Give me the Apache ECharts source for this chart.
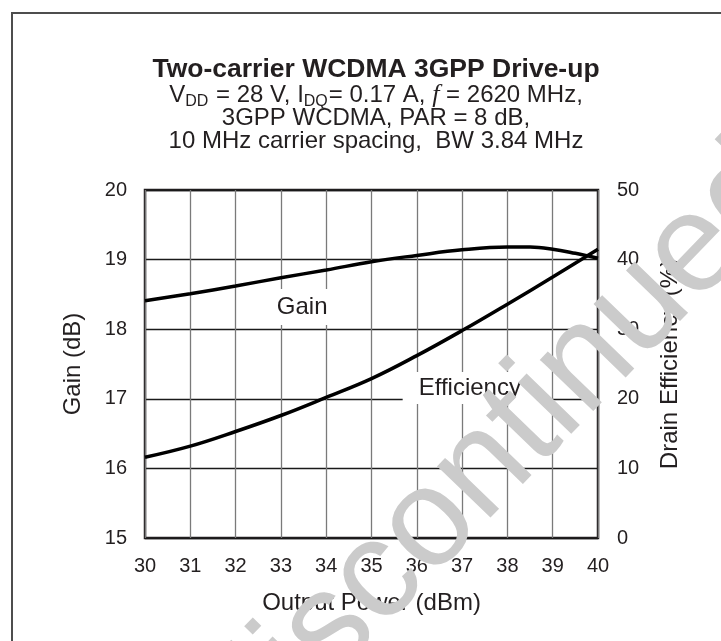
<!DOCTYPE html>
<html>
<head>
<meta charset="utf-8">
<title>Two-carrier WCDMA 3GPP Drive-up</title>
<script src="https://cdn.jsdelivr.net/npm/echarts@6/dist/echarts.min.js"></script>
<style>
  html, body { margin: 0; padding: 0; background: #fff; }
  #chart { width: 721px; height: 641px; }
</style>
</head>
<body>
<div id="chart"></div>
<script>
  // values
  const gainPower = [30, 31, 32, 33, 34, 35, 36, 37, 38, 38.5, 39, 39.5, 40]
  const gainDb = [18.41, 18.51, 18.62, 18.74, 18.85, 18.97, 19.06, 19.14, 19.18, 19.18, 19.15, 19.09, 19.02]
  const effPower = [30, 31, 32, 33, 34, 35, 36, 37, 38, 39, 40]
  const effPct = [11.6, 13.2, 15.3, 17.6, 20.2, 22.9, 26.2, 29.8, 33.6, 37.5, 41.5]

  const ink = '#231f20'
  const font = 'Liberation Sans, Arial, sans-serif'

  const pairs = (xs, ys) => xs.map((x, i) => [x, ys[i]])

  let myChart = echarts.init(document.getElementById('chart'))
  let option = {
    backgroundColor: '#fff',
    animation: false,
    title: {
      text: 'Two-carrier WCDMA 3GPP Drive-up',
      left: 371,
      top: 52,
      textAlign: 'center',
      itemGap: 0,
      textStyle: {
        fontFamily: font,
        fontSize: 26.5,
        fontWeight: 'bold',
        color: ink,
        lineHeight: 26
      },
      subtext: '{n|V}{s|DD}{n| = 28 V, I}{s|DQ}{n|= 0.17 A, }{i|f}{n| = 2620 MHz,}\n' +
        '3GPP WCDMA, PAR = 8 dB,\n10 MHz carrier spacing,  BW 3.84 MHz',
      subtextStyle: {
        fontFamily: font,
        fontSize: 24,
        color: ink,
        lineHeight: 23,
        align: 'center',
        rich: {
          n: {fontFamily: font, fontSize: 24, color: ink, lineHeight: 23},
          s: {fontFamily: font, fontSize: 16, color: ink, lineHeight: 10, padding: [12, 1, 0, 0], verticalAlign: 'middle'},
          i: {fontFamily: 'Liberation Serif, serif', fontStyle: 'italic', fontSize: 26, color: ink, lineHeight: 23}
        }
      }
    },
    grid: {
      left: 145,
      right: 123,
      top: 190,
      bottom: 103,
      show: true,
      borderColor: ink,
      borderWidth: 2.5
    },
    xAxis: {
      type: 'value',
      min: 30,
      max: 40,
      interval: 1,
      name: 'Output Power (dBm)',
      nameLocation: 'middle',
      nameGap: 53,
      nameTextStyle: {fontFamily: font, fontSize: 24, color: ink},
      axisLine: {show: false},
      axisTick: {show: false},
      axisLabel: {fontFamily: font, fontSize: 20, color: ink, margin: 18},
      splitLine: {lineStyle: {color: '#7a7a7a', width: 1.3}}
    },
    yAxis: [{
      type: 'value',
      position: 'left',
      min: 15,
      max: 20,
      interval: 1,
      name: 'Gain (dB)',
      nameLocation: 'middle',
      nameRotate: 90,
      nameGap: 60,
      nameTextStyle: {fontFamily: font, fontSize: 24, color: ink},
      axisLine: {show: false},
      axisTick: {show: false},
      axisLabel: {fontFamily: font, fontSize: 20, color: ink, margin: 18},
      splitLine: {lineStyle: {color: '#1a1a1a', width: 1.3}}
    }, {
      type: 'value',
      position: 'right',
      min: 0,
      max: 50,
      interval: 10,
      name: 'Drain Efficiency (%)',
      nameLocation: 'middle',
      nameRotate: 90,
      nameGap: 60,
      nameTextStyle: {fontFamily: font, fontSize: 24, color: ink},
      axisLine: {show: false},
      axisTick: {show: false},
      axisLabel: {fontFamily: font, fontSize: 20, color: ink, margin: 19},
      splitLine: {show: false}
    }],
    series: [
      {
        name: 'Gain',
        type: 'line',
        yAxisIndex: 0,
        smooth: 0.4,
        showSymbol: false,
        lineStyle: {color: '#000', width: 3.5},
        data: pairs(gainPower, gainDb),
        markPoint: {
          symbol: 'rect',
          symbolSize: 1,
          itemStyle: {color: 'rgba(0,0,0,0)'},
          label: {
            show: true,
            position: 'inside',
            formatter: 'Gain',
            fontFamily: font,
            fontSize: 24,
            color: ink,
            backgroundColor: '#fff',
            padding: [6, 10]
          },
          data: [{coord: [33.47, 18.32]}]
        }
      },
      {
        name: 'Efficiency',
        type: 'line',
        yAxisIndex: 1,
        smooth: 0.4,
        showSymbol: false,
        lineStyle: {color: '#000', width: 3.5},
        data: pairs(effPower, effPct),
        markPoint: {
          symbol: 'rect',
          symbolSize: 1,
          itemStyle: {color: 'rgba(0,0,0,0)'},
          label: {
            show: true,
            position: 'inside',
            formatter: 'Efficiency',
            fontFamily: font,
            fontSize: 24,
            color: ink,
            backgroundColor: '#fff',
            padding: [4, 16]
          },
          data: [{coord: [37.17, 21.55]}]
        }
      }
    ],
    graphic: [
      {
        // page frame (left and top edges only)
        type: 'polyline',
        silent: true,
        shape: {points: [[12, 641], [12, 13], [721, 13]]},
        style: {stroke: '#4d4d4d', lineWidth: 2, fill: null}
      },
      {
        // "discontinued" watermark on top of everything
        type: 'text',
        silent: true,
        z: 100,
        x: 502,
        y: 450,
        rotation: 46 * Math.PI / 180,
        style: {
          text: 'discontinued',
          fontFamily: font,
          fontSize: 140,
          fill: '#cbcbcb',
          align: 'center',
          verticalAlign: 'middle'
        }
      }
    ]
  }
  myChart.setOption(option)
</script>
</body>
</html>
